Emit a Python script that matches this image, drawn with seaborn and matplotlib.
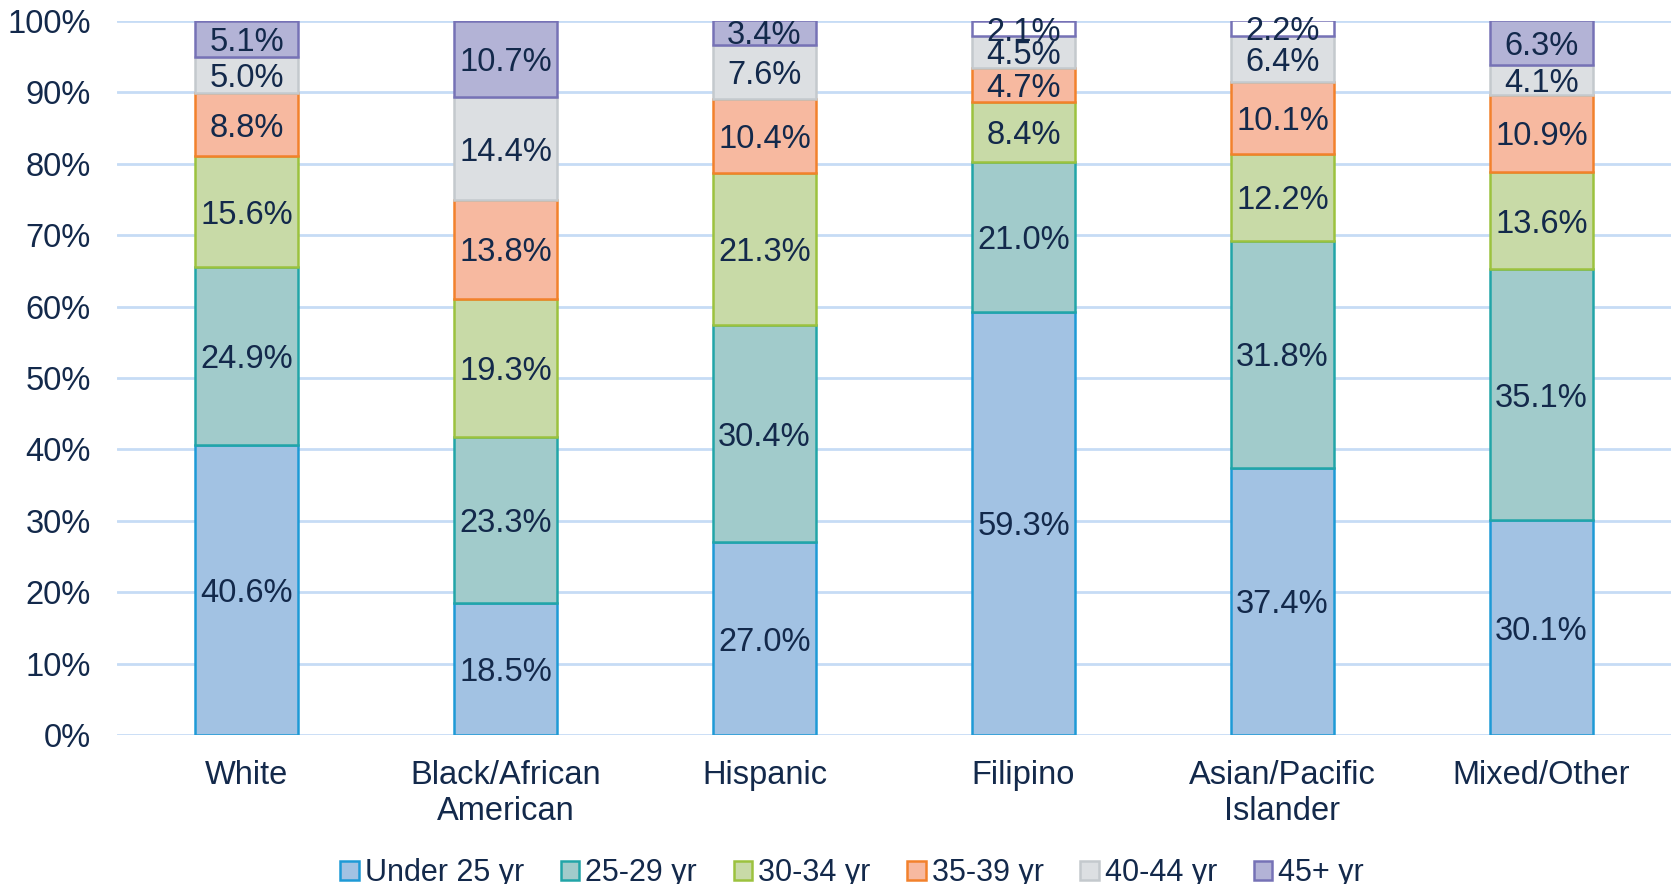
import matplotlib
matplotlib.use("Agg")
import matplotlib.pyplot as plt
from matplotlib.patches import Patch
import numpy as np
import seaborn as sns

groups = ["White", "Black/African\nAmerican", "Hispanic", "Filipino",
          "Asian/Pacific\nIslander", "Mixed/Other"]
age_bands = ["Under 25 yr", "25-29 yr", "30-34 yr", "35-39 yr", "40-44 yr", "45+ yr"]

under_25 = [40.6, 18.5, 27.0, 59.3, 37.4, 30.1]
age_25_29 = [24.9, 23.3, 30.4, 21.0, 31.8, 35.1]
age_30_34 = [15.6, 19.3, 21.3, 8.4, 12.2, 13.6]
age_35_39 = [8.8, 13.8, 10.4, 4.7, 10.1, 10.9]
age_40_44 = [5.0, 14.4, 7.6, 4.5, 6.4, 4.1]
age_45_up = [5.1, 10.7, 3.4, 2.1, 2.2, 6.3]

series = [under_25, age_25_29, age_30_34, age_35_39, age_40_44, age_45_up]

fills = ["#a2c2e3", "#a1cbcb", "#c8daa7", "#f7b9a0", "#dcdfe2", "#b3b3d6"]
edges = ["#1e9ad6", "#22a5a8", "#9cc23e", "#f2812c", "#c4c9cd", "#7672b6"]

text_col = "#13294b"
grid_col = "#c6dcf5"
fs = 23.5

sns.set_theme(style="white")
plt.rcParams["font.family"] = ["Liberation Sans", "DejaVu Sans"]

fig = plt.figure(figsize=(16.71, 8.84), dpi=100)
ax = fig.add_axes([0.070, 0.1686, 0.930, 0.8076])

bottom = np.zeros(len(groups))
for vals, fc, ec in zip(series, fills, edges):
    frac = np.array(vals) / 100
    sns.barplot(x=groups, y=frac, bottom=bottom, color=fc, edgecolor=ec,
                linewidth=1.8, saturation=1, width=0.4, ax=ax, zorder=3)
    for i, v in enumerate(vals):
        ax.text(i, bottom[i] + frac[i] / 2, "{:.1f}%".format(v), ha="center",
                va="center_baseline", fontsize=fs, color=text_col, zorder=5)
    bottom = bottom + frac

# very thin top segments show as white boxes in the original
for bar, v in zip(ax.containers[-1].patches, age_45_up):
    if v < 3:
        bar.set_facecolor("white")

ax.set_ylim(0, 1)
ax.set_xlim(-0.5, len(groups) - 0.5)
ticks = np.arange(0, 1.01, 0.1)
ax.set_yticks(ticks)
ax.set_yticklabels(["{}%".format(int(round(t * 100))) for t in ticks])
ax.yaxis.grid(True, color=grid_col, linewidth=2)
ax.set_axisbelow(True)
for s in ax.spines.values():
    s.set_visible(False)
ax.tick_params(axis="y", length=0, pad=19, labelsize=fs, labelcolor=text_col)
ax.tick_params(axis="x", length=0, pad=18, labelsize=fs, labelcolor=text_col)
ax.set_xlabel("")
ax.set_ylabel("")

handles = [Patch(facecolor=fc, edgecolor=ec, linewidth=1.8) for fc, ec in zip(fills, edges)]
leg = fig.legend(handles, age_bands, loc="lower center", bbox_to_anchor=(0.51, -0.036),
                 ncol=6, frameon=False, fontsize=22, handlelength=0.6, handleheight=0.6,
                 handletextpad=0.2, columnspacing=1.2)
for t in leg.get_texts():
    t.set_color(text_col)

fig.savefig("out.png", dpi=100)
